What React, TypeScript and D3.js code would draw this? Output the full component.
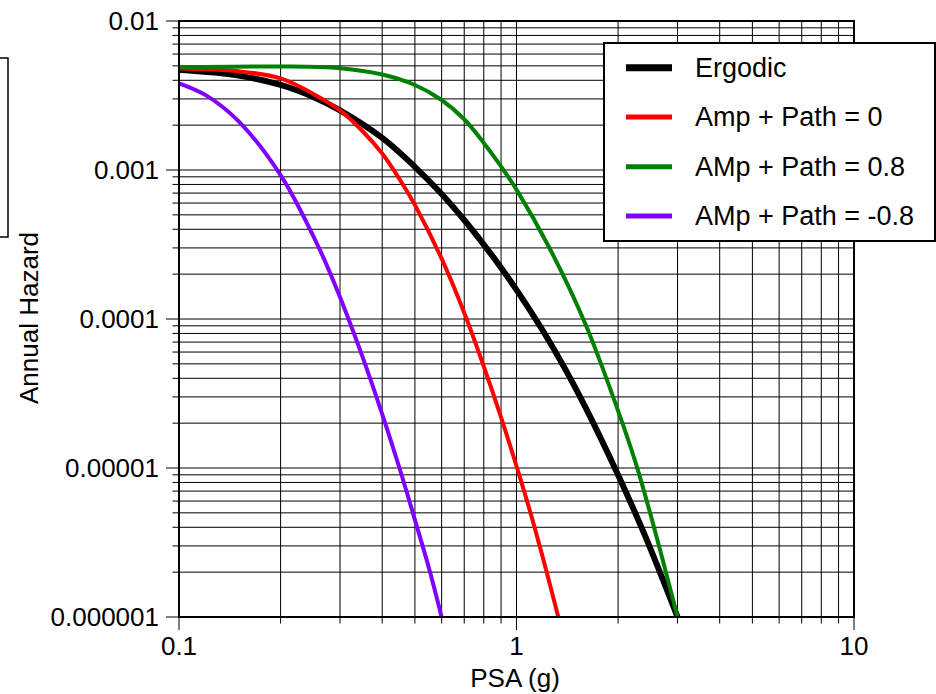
import React from 'react';
import * as d3 from 'd3';

// hazard curves (PSA in g, annual hazard)
const ergodicX = [0.1, 0.15, 0.2, 0.25, 0.3, 0.4, 0.5, 0.6, 0.7, 0.8, 0.9, 1.0, 1.2, 1.4, 1.6, 2.0, 2.4, 3.0];
const ergodicY = [0.0047, 0.0043, 0.00372, 0.00309, 0.00251, 0.00164, 0.00105, 0.00069, 0.000462, 0.000316, 0.000221, 0.000157, 0.0000828, 0.0000454, 0.0000256, 0.00000897, 0.00000354, 0.000001];

const ampZeroX = [0.1, 0.15, 0.2, 0.25, 0.3, 0.35, 0.4, 0.45, 0.5, 0.6, 0.7, 0.8, 0.9, 1.0, 1.1, 1.2, 1.33];
const ampZeroY = [0.0048, 0.0046, 0.00412, 0.00324, 0.00251, 0.00182, 0.00129, 0.00087, 0.000582, 0.000254, 0.00011, 0.000048, 0.0000219, 0.0000103, 0.000005, 0.00000245, 0.000001];

const ampPlusX = [0.1, 0.2, 0.3, 0.4, 0.5, 0.6, 0.7, 0.8, 0.9, 1.0, 1.25, 1.6, 2.0, 2.25, 2.5, 3.0];
const ampPlusY = [0.0049, 0.00495, 0.00482, 0.00437, 0.00372, 0.00295, 0.00219, 0.00152, 0.001057, 0.000738, 0.000302, 0.0000925, 0.0000242, 0.000011, 0.0000048, 0.000001];

const ampMinusX = [0.1, 0.12, 0.15, 0.2, 0.26, 0.3, 0.35, 0.4, 0.45, 0.5, 0.55, 0.6];
const ampMinusY = [0.00382, 0.00318, 0.00213, 0.000923, 0.000299, 0.00014, 0.0000555, 0.000023, 0.00001, 0.00000449, 0.00000214, 0.000001];

const seriesNames = ['Ergodic', 'Amp + Path = 0', 'AMp + Path = 0.8', 'AMp + Path = -0.8'];
const seriesColors = ['#000000', '#ff0000', '#008000', '#8000ff'];
const seriesWidths = [6, 4, 4, 4];

const xTickValues = [0.1, 1, 10];
const xTickLabels = ['0.1', '1', '10'];
const yTickValues = [0.01, 0.001, 0.0001, 0.00001, 0.000001];
const yTickLabels = ['0.01', '0.001', '0.0001', '0.00001', '0.000001'];

const font = '"Liberation Sans", Arial, Helvetica, sans-serif';

export default function App() {
  const left = 179, right = 854, top = 21, bottom = 617;
  const x = d3.scaleLog().domain([0.1, 10]).range([left, right]);
  const y = d3.scaleLog().domain([1e-6, 0.01]).range([bottom, top]);

  // minor + major grid values (1..9 in each decade)
  const xGrid: number[] = [];
  [0.1, 1].forEach(d => { for (let k = 1; k <= 9; k++) xGrid.push(d * k); });
  xGrid.push(10);
  const yGrid: number[] = [];
  [1e-6, 1e-5, 1e-4, 1e-3].forEach(d => { for (let k = 1; k <= 9; k++) yGrid.push(d * k); });
  yGrid.push(0.01);
  const isMajor = (v: number) => Math.abs(Math.log10(v) - Math.round(Math.log10(v))) < 1e-6;

  const line = d3.line<[number, number]>()
    .x(d => x(d[0]))
    .y(d => y(d[1]))
    .curve(d3.curveCatmullRom.alpha(0.5));

  const series = [
    { xs: ergodicX, ys: ergodicY },
    { xs: ampZeroX, ys: ampZeroY },
    { xs: ampPlusX, ys: ampPlusY },
    { xs: ampMinusX, ys: ampMinusY },
  ];

  const legendX = 604, legendY = 43, legendW = 331, legendH = 198;
  const rowY = [67.7, 117, 166.7, 216];

  return (
    <svg width={936} height={694} style={{ position: 'absolute', left: 0, top: 0, background: '#fff' }} fontFamily={font}>
      {/* clipped box at the far left */}
      <rect x={-20} y={58} width={28} height={179} fill="none" stroke="#000" strokeWidth={1.5} />

      {/* grid */}
      <g stroke="#000" strokeWidth={1}>
        {xGrid.map((v, i) => (
          <line key={'gx' + i} x1={x(v)} x2={x(v)} y1={top} y2={bottom + (isMajor(v) ? 13 : 6.5)} />
        ))}
        {yGrid.map((v, i) => (
          <line key={'gy' + i} x1={left - (isMajor(v) ? 13 : 6.5)} x2={right} y1={y(v)} y2={y(v)} />
        ))}
      </g>

      {/* curves */}
      {series.map((s, i) => (
        <path key={'s' + i}
          d={line(s.xs.map((v, j) => [v, s.ys[j]] as [number, number])) || ''}
          fill="none" stroke={seriesColors[i]} strokeWidth={seriesWidths[i]} strokeLinejoin="round" />
      ))}

      {/* frame */}
      <rect x={left} y={top} width={right - left} height={bottom - top} fill="none" stroke="#000" strokeWidth={2} />

      {/* tick labels */}
      {yTickValues.map((v, i) => (
        <text key={'yt' + i} x={159} y={y(v)} dy="0.35em" textAnchor="end" fontSize={26} fill="#000">{yTickLabels[i]}</text>
      ))}
      {xTickValues.map((v, i) => (
        <text key={'xt' + i} x={x(v)} y={655} textAnchor="middle" fontSize={26} fill="#000">{xTickLabels[i]}</text>
      ))}

      {/* axis titles */}
      <text x={515} y={687} textAnchor="middle" fontSize={26} fill="#000">PSA (g)</text>
      <text transform="translate(38,318) rotate(-90)" textAnchor="middle" fontSize={26} fill="#000">Annual Hazard</text>

      {/* legend */}
      <rect x={legendX} y={legendY} width={legendW} height={legendH} fill="#fff" stroke="#000" strokeWidth={2} />
      {seriesNames.map((name, i) => (
        <g key={'lg' + i}>
          <line x1={626} x2={672} y1={rowY[i]} y2={rowY[i]} stroke={seriesColors[i]} strokeWidth={seriesWidths[i] + 1} />
          <text x={695} y={rowY[i]} dy="0.35em" fontSize={27} fill="#000">{name}</text>
        </g>
      ))}
    </svg>
  );
}
